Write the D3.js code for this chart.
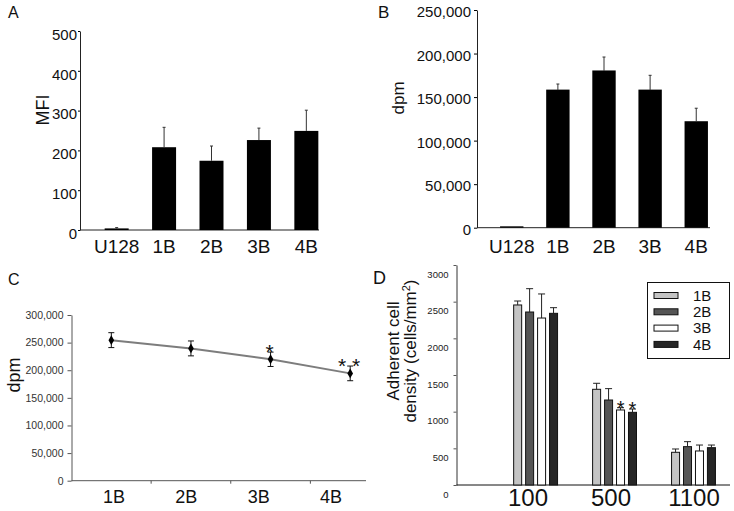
<!DOCTYPE html>
<html><head><meta charset="utf-8">
<script src="https://cdn.jsdelivr.net/npm/d3@7"></script>
<style>
body{margin:0;background:#fff}
svg{display:block}
text{font-family:"Liberation Sans",Arial,Helvetica,sans-serif}
</style>
</head><body>
<svg id="chart" width="734" height="511"></svg>
<script>
// ---------- Panel A ----------
const aCategories = ["U128", "1B", "2B", "3B", "4B"];
const aMFI = [4, 208, 174, 226, 249];
const aMFIErr = [2, 50, 37, 30, 52];
const aTicks = [0, 100, 200, 300, 400, 500];

// ---------- Panel B ----------
const bCategories = ["U128", "1B", "2B", "3B", "4B"];
const bDpm = [1000, 158000, 180000, 158000, 121700];
const bDpmErr = [0, 7000, 16000, 17000, 15500];
const bTicks = [0, 50000, 100000, 150000, 200000, 250000];

// ---------- Panel C ----------
const cCategories = ["1B", "2B", "3B", "4B"];
const cDpm = [254500, 239500, 219800, 194300];
const cDpmErr = [13500, 13500, 13000, 13300];
const cSignif = ["", "", "*", "* *"];
const cTicks = [0, 50000, 100000, 150000, 200000, 250000, 300000];

// ---------- Panel D ----------
const dShear = ["100", "500", "1100"];
const dSeries = ["1B", "2B", "3B", "4B"];
const dDensity1B = [2455, 1305, 446];
const dDensity2B = [2359, 1159, 523];
const dDensity3B = [2277, 1023, 464];
const dDensity4B = [2341, 991, 509];
const dErr1B = [54, 82, 45];
const dErr2B = [318, 155, 68];
const dErr3B = [328, 31, 81];
const dErr4B = [77, 45, 36];
const dSignif3B = ["", "*", ""];
const dSignif4B = ["", "*", ""];
const dColors = ["#c4c4c4", "#555555", "#ffffff", "#262626"];
const dTicks = [0, 500, 1000, 1500, 2000, 2500, 3000];

const svg = d3.select("#chart");

function panelTitle(t, x, y, size) {
  svg.append("text").attr("x", x).attr("y", y).attr("font-size", size).attr("fill", "#111").text(t);
}

// ================= Panel A =================
{
  const g = svg.append("g");
  const x = d3.scaleBand().domain(aCategories).range([80, 343]).paddingInner(0.494).paddingOuter(0.52);
  const y = d3.scaleLinear().domain([0, 500]).range([230, 31]);
  const ax = g.append("g").attr("transform", "translate(80,0)")
    .call(d3.axisLeft(y).tickValues(aTicks).tickSize(2).tickSizeOuter(0).tickPadding(1));
  ax.selectAll("text").attr("font-size", 15).attr("fill", "#111").attr("dy", "0.55em");
  ax.select(".domain").attr("stroke", "#222");
  g.append("line").attr("x1", 80).attr("x2", 319).attr("y1", y(0)).attr("y2", y(0)).attr("stroke", "#222");
  g.selectAll("rect.bar").data(aMFI).join("rect")
    .attr("x", (d, i) => x(aCategories[i])).attr("width", x.bandwidth())
    .attr("y", d => y(d)).attr("height", d => y(0) - y(d)).attr("fill", "#000");
  aMFI.forEach((v, i) => {
    const cx = x(aCategories[i]) + x.bandwidth() / 2;
    g.append("line").attr("x1", cx).attr("x2", cx).attr("y1", y(v)).attr("y2", y(v + aMFIErr[i])).attr("stroke", "#333");
    g.append("line").attr("x1", cx - 1.5).attr("x2", cx + 1.5).attr("y1", y(v + aMFIErr[i])).attr("y2", y(v + aMFIErr[i])).attr("stroke", "#333");
  });
  aCategories.forEach(c => {
    g.append("text").attr("x", x(c) + x.bandwidth() / 2).attr("y", 252.5).attr("text-anchor", "middle")
      .attr("font-size", 19).attr("fill", "#111").text(c);
  });
  g.append("text").attr("transform", "translate(48.5,110) rotate(-90)").attr("text-anchor", "middle")
    .attr("font-size", 18).attr("fill", "#111").text("MFI");
  panelTitle("A", 8, 17.5, 16);
}

// ================= Panel B =================
{
  const g = svg.append("g");
  const x = d3.scaleBand().domain(bCategories).range([477, 731]).paddingInner(0.493).paddingOuter(0.5);
  const y = d3.scaleLinear().domain([0, 250000]).range([227.7, 10]);
  const ax = g.append("g").attr("transform", "translate(477,0)")
    .call(d3.axisLeft(y).tickValues(bTicks).tickFormat(d3.format(",")).tickSize(3).tickSizeOuter(0).tickPadding(3));
  ax.selectAll("text").attr("font-size", 15).attr("fill", "#111").attr("dy", "0.45em");
  ax.select(".domain").attr("stroke", "#222");
  g.append("line").attr("x1", 477).attr("x2", 710).attr("y1", y(0)).attr("y2", y(0)).attr("stroke", "#222");
  g.selectAll("rect.bar").data(bDpm).join("rect")
    .attr("x", (d, i) => x(bCategories[i])).attr("width", x.bandwidth())
    .attr("y", d => y(d) - 0.5).attr("height", d => y(0) - y(d) + 0.5).attr("fill", "#000");
  bDpm.forEach((v, i) => {
    if (!bDpmErr[i]) return;
    const cx = x(bCategories[i]) + x.bandwidth() / 2;
    g.append("line").attr("x1", cx).attr("x2", cx).attr("y1", y(v)).attr("y2", y(v + bDpmErr[i])).attr("stroke", "#333");
    g.append("line").attr("x1", cx - 1.5).attr("x2", cx + 1.5).attr("y1", y(v + bDpmErr[i])).attr("y2", y(v + bDpmErr[i])).attr("stroke", "#333");
  });
  bCategories.forEach(c => {
    g.append("text").attr("x", x(c) + x.bandwidth() / 2).attr("y", 252.5).attr("text-anchor", "middle")
      .attr("font-size", 19).attr("fill", "#111").text(c);
  });
  g.append("text").attr("transform", "translate(404,98) rotate(-90)").attr("text-anchor", "middle")
    .attr("font-size", 17).attr("fill", "#111").text("dpm");
  panelTitle("B", 378, 17.5, 17);
}

// ================= Panel C =================
{
  const g = svg.append("g");
  const x = d3.scaleBand().domain(cCategories).range([71.5, 390]);
  const xLab = d3.scalePoint().domain(cCategories).range([114, 331]);
  const y = d3.scaleLinear().domain([0, 300000]).range([480.7, 315]);
  const ax = g.append("g").attr("transform", "translate(71.5,0)")
    .call(d3.axisLeft(y).tickValues(cTicks).tickFormat(d3.format(",")).tickSize(4).tickSizeOuter(0).tickPadding(4));
  ax.selectAll("text").attr("font-size", 10.5).attr("fill", "#333");
  ax.selectAll("line").attr("stroke", "#555");
  ax.select(".domain").attr("stroke", "#555");
  g.append("line").attr("x1", 71.5).attr("x2", 366).attr("y1", y(0)).attr("y2", y(0)).attr("stroke", "#555");
  cCategories.slice(1).forEach(c => {
    g.append("line").attr("x1", x(c)).attr("x2", x(c)).attr("y1", y(0)).attr("y2", y(0) + 3).attr("stroke", "#555");
  });
  const cx = c => x(c) + x.bandwidth() / 2;
  const line = d3.line().x((d, i) => cx(cCategories[i])).y(d => y(d));
  g.append("path").datum(cDpm).attr("d", line).attr("fill", "none").attr("stroke", "#7d7d7d").attr("stroke-width", 2);
  cDpm.forEach((v, i) => {
    const px = cx(cCategories[i]);
    const t = y(v + cDpmErr[i]), b = y(v - cDpmErr[i]);
    g.append("line").attr("x1", px).attr("x2", px).attr("y1", t).attr("y2", b).attr("stroke", "#111");
    g.append("line").attr("x1", px - 3).attr("x2", px + 3).attr("y1", t).attr("y2", t).attr("stroke", "#111");
    g.append("line").attr("x1", px - 3).attr("x2", px + 3).attr("y1", b).attr("y2", b).attr("stroke", "#111");
    g.append("path").attr("d", d3.symbol(d3.symbolDiamond, 28)()).attr("transform", `translate(${px},${y(v)})`).attr("fill", "#000");
    if (cSignif[i]) {
      g.append("text").attr("x", px - 1).attr("y", t + 7).attr("text-anchor", "middle")
        .attr("font-size", 21).attr("fill", "#111").text(cSignif[i]);
    }
  });
  cCategories.forEach(c => {
    g.append("text").attr("x", xLab(c)).attr("y", 502.5).attr("text-anchor", "middle")
      .attr("font-size", 18).attr("fill", "#111").text(c);
  });
  g.append("text").attr("transform", "translate(19.5,375) rotate(-90)").attr("text-anchor", "middle")
    .attr("font-size", 18).attr("fill", "#111").text("dpm");
  panelTitle("C", 8, 285, 16);
}

// ================= Panel D =================
{
  const g = svg.append("g");
  const values = [dDensity1B, dDensity2B, dDensity3B, dDensity4B];
  const errs = [dErr1B, dErr2B, dErr3B, dErr4B];
  const signif = [null, null, dSignif3B, dSignif4B];
  const x0 = d3.scaleBand().domain(dShear).range([456.5, 772.6]).paddingInner(0.444).paddingOuter(0.724);
  const x1 = d3.scaleBand().domain(dSeries).range([0, x0.bandwidth()]).paddingInner(0.33);
  const xLab = d3.scalePoint().domain(dShear).range([528, 694]);
  const y = d3.scaleLinear().domain([0, 3000]).range([485, 265]);
  const ax = g.append("g").attr("transform", "translate(456.5,0)")
    .call(d3.axisLeft(y).tickValues(dTicks).tickFormat(d3.format("d")).tickSize(3).tickSizeOuter(0).tickPadding(5));
  ax.selectAll("text").attr("font-size", 9.5).attr("fill", "#222").attr("dy", 12.2);
  ax.select(".domain").attr("stroke", "#333");
  ax.selectAll("line").attr("stroke", "#555");
  g.append("line").attr("x1", 456.5).attr("x2", 730).attr("y1", y(0)).attr("y2", y(0)).attr("stroke", "#111");
  dSeries.forEach((s, si) => {
    dShear.forEach((sh, gi) => {
      const v = values[si][gi], e = errs[si][gi];
      const bx = x0(sh) + x1(s);
      g.append("rect").attr("x", bx).attr("width", x1.bandwidth()).attr("y", y(v)).attr("height", y(0) - y(v))
        .attr("fill", dColors[si]).attr("stroke", "#111").attr("stroke-width", 1);
      const cxp = bx + x1.bandwidth() / 2;
      g.append("line").attr("x1", cxp).attr("x2", cxp).attr("y1", y(v)).attr("y2", y(v + e)).attr("stroke", "#222");
      g.append("line").attr("x1", cxp - 3.5).attr("x2", cxp + 3.5).attr("y1", y(v + e)).attr("y2", y(v + e)).attr("stroke", "#222");
      if (signif[si] && signif[si][gi]) {
        g.append("text").attr("x", cxp).attr("y", y(v + e) + 7).attr("text-anchor", "middle")
          .attr("font-size", 20).attr("fill", "#111").text(signif[si][gi]);
      }
    });
  });
  dShear.forEach(sh => {
    g.append("text").attr("x", xLab(sh)).attr("y", 506).attr("text-anchor", "middle")
      .attr("font-size", 24).attr("fill", "#111").text(sh);
  });
  // legend
  const lg = g.append("g");
  lg.append("rect").attr("x", 647.5).attr("y", 282.5).attr("width", 82).attr("height", 76)
    .attr("fill", "#fff").attr("stroke", "#111");
  dSeries.forEach((s, i) => {
    const yy = 295.5 + i * 16.3;
    lg.append("rect").attr("x", 654).attr("y", yy - 3).attr("width", 24).attr("height", 6)
      .attr("fill", dColors[i]).attr("stroke", "#111");
    lg.append("text").attr("x", 693).attr("y", yy + 5.3).attr("font-size", 15).attr("fill", "#111").text(s);
  });
  // y title
  const yt = g.append("text").attr("transform", "translate(399,351) rotate(-90)").attr("text-anchor", "middle")
    .attr("font-size", 17).attr("fill", "#111");
  yt.append("tspan").attr("x", 0).attr("dy", 0).text("Adherent cell");
  const l2 = yt.append("tspan").attr("x", 0).attr("dy", 16.5);
  l2.append("tspan").text("density (cells/mm");
  l2.append("tspan").attr("dy", -6).attr("font-size", 11).text("2");
  l2.append("tspan").attr("dy", 6).text(")");
  panelTitle("D", 373, 283.5, 18);
}
</script>
</body></html>
